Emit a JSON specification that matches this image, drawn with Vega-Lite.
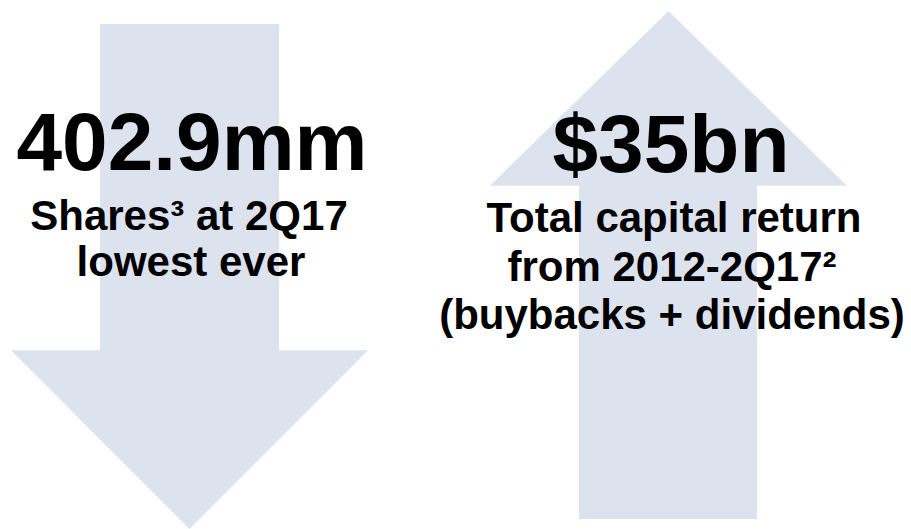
{
  "$schema": "https://vega.github.io/schema/vega-lite/v6.json",
  "width": 911,
  "height": 529,
  "padding": 0,
  "autosize": {"type": "fit", "contains": "padding"},
  "background": "white",
  "config": {"view": {"stroke": null}},
  "datasets": {
    "shafts": [
      {"arrow": "down", "x0": 100, "x1": 279, "y0": 24, "y1": 352},
      {"arrow": "up", "x0": 579, "x1": 757, "y0": 185, "y1": 520}
    ],
    "heads": [
      {"arrow": "down", "x": 11, "ytop": 351, "ybot": 351},
      {"arrow": "down", "x": 189.5, "ytop": 351, "ybot": 530},
      {"arrow": "down", "x": 368, "ytop": 351, "ybot": 351},
      {"arrow": "up", "x": 490, "ytop": 186, "ybot": 186},
      {"arrow": "up", "x": 668.5, "ytop": 186, "ybot": 11},
      {"arrow": "up", "x": 847, "ytop": 186, "ybot": 186}
    ],
    "big": [
      {"label": "402.9mm", "x": 192, "y": 170},
      {"label": "$35bn", "x": 671, "y": 172}
    ],
    "small": [
      {"label": "Shares³ at 2Q17", "x": 189, "y": 230},
      {"label": "lowest ever", "x": 191, "y": 277},
      {"label": "Total capital return", "x": 674, "y": 232},
      {"label": "from 2012-2Q17²", "x": 672, "y": 282},
      {"label": "(buybacks + dividends)", "x": 672, "y": 330}
    ]
  },
  "layer": [
    {
      "data": {"name": "shafts"},
      "mark": {"type": "rect", "color": "#DCE3EE"},
      "encoding": {
        "x": {"field": "x0", "type": "quantitative", "scale": {"domain": [0, 911], "nice": false, "zero": false}, "axis": null},
        "x2": {"field": "x1"},
        "y": {"field": "y0", "type": "quantitative", "scale": {"domain": [0, 529], "nice": false, "zero": false, "reverse": true}, "axis": null},
        "y2": {"field": "y1"}
      }
    },
    {
      "data": {"name": "heads"},
      "mark": {"type": "area", "color": "#DCE3EE", "orient": "vertical"},
      "encoding": {
        "x": {"field": "x", "type": "quantitative"},
        "y": {"field": "ytop", "type": "quantitative"},
        "y2": {"field": "ybot"},
        "detail": {"field": "arrow", "type": "nominal"}
      }
    },
    {
      "data": {"name": "big"},
      "mark": {"type": "text", "font": "Liberation Sans", "fontWeight": "bold", "fontSize": 82, "align": "center", "baseline": "alphabetic", "color": "black"},
      "encoding": {
        "x": {"field": "x", "type": "quantitative"},
        "y": {"field": "y", "type": "quantitative"},
        "text": {"field": "label"}
      }
    },
    {
      "data": {"name": "small"},
      "mark": {"type": "text", "font": "Liberation Sans", "fontWeight": "bold", "fontSize": 42, "align": "center", "baseline": "alphabetic", "color": "black"},
      "encoding": {
        "x": {"field": "x", "type": "quantitative"},
        "y": {"field": "y", "type": "quantitative"},
        "text": {"field": "label"}
      }
    }
  ]
}
